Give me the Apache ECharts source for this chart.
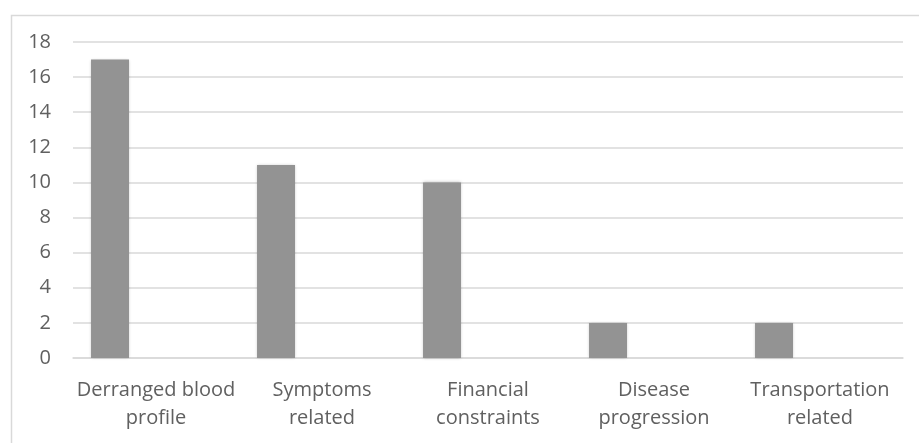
<!DOCTYPE html>
<html>
<head>
<meta charset="utf-8">
<script src="https://cdn.jsdelivr.net/npm/echarts@6/dist/echarts.min.js"></script>
<style>
    html, body { margin: 0; padding: 0; background: #fff; }
    #main { width: 919px; height: 443px; }
</style>
</head>
<body>
<div id="main"></div>
<script>
    var categories = ['Derranged blood\nprofile', 'Symptoms\nrelated', 'Financial\nconstraints', 'Disease\nprogression', 'Transportation\nrelated'];
    var counts = [17, 11, 10, 2, 2];
    var emptySeries = [null, null, null, null, null];

    var myChart = echarts.init(document.getElementById('main'));
    var option = {
        textStyle: {fontFamily: 'Open Sans', color: '#606060'},
        animation: false,
        graphic: [{
            type: 'rect',
            left: 9, top: 13,
            shape: {width: 930, height: 460},
            style: {fill: 'none', stroke: '#d9d9d9', lineWidth: 1.5}
        }],
        grid: {left: 73, right: 16, top: 42, bottom: 85, containLabel: false},
        xAxis: {
            type: 'category',
            data: categories,
            axisTick: {show: false},
            axisLine: {lineStyle: {color: '#d9d9d9', width: 1.5}},
            axisLabel: {
                color: '#606060',
                fontSize: 20,
                lineHeight: 28,
                margin: 18,
                interval: 0
            }
        },
        yAxis: {
            type: 'value',
            min: 0, max: 18, interval: 2,
            axisLine: {show: false},
            axisTick: {show: false},
            splitLine: {lineStyle: {color: '#d9d9d9', width: 1.5}},
            axisLabel: {color: '#606060', fontSize: 20, margin: 22}
        },
        series: [
            {
                type: 'bar',
                data: counts,
                barWidth: 38,
                barGap: '142%',
                itemStyle: {
                    color: '#939393',
                    shadowColor: 'rgba(0,0,0,0.25)',
                    shadowBlur: 3
                }
            },
            {
                type: 'bar',
                data: emptySeries,
                barWidth: 38
            }
        ]
    };
    myChart.setOption(option);
</script>
</body>
</html>
